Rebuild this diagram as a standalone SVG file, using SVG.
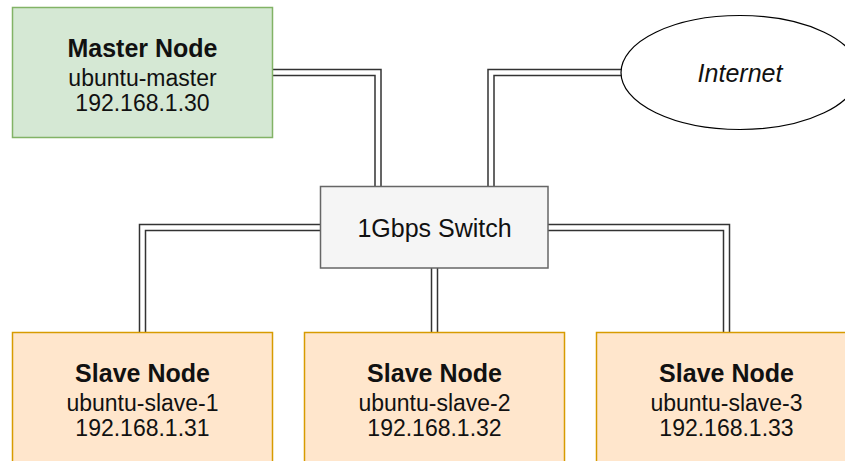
<svg xmlns="http://www.w3.org/2000/svg" width="845" height="461" viewBox="0 0 845 461">
  <style>
    .link-outer { fill: none; stroke: #333333; stroke-width: 7.5; stroke-linejoin: miter; stroke-linecap: butt; }
    .link-inner { fill: none; stroke: #ffffff; stroke-width: 4.5; stroke-linejoin: miter; stroke-linecap: butt; }
    .master { fill: #d5e8d4; stroke: #82b366; stroke-width: 1.5; }
    .slave { fill: #ffe6cc; stroke: #d79b00; stroke-width: 1.5; }
    .switch { fill: #f5f5f5; stroke: #666666; stroke-width: 1.5; }
    .cloud { fill: #ffffff; stroke: #000000; stroke-width: 1.2; }
    text { font-family: "Liberation Sans", Arial, sans-serif; fill: #111111; text-anchor: middle; }
    .title { font-weight: bold; font-size: 25px; }
    .sub { font-size: 23px; }
    .lbl { font-size: 25px; }
    .it { font-size: 25px; font-style: italic; }
  </style>
  <g id="connectors">
    <path class="link-outer" d="M272.5,72.5 H378 V186.5"/>
    <path class="link-inner" d="M272.5,72.5 H378 V186.5"/>
    <path class="link-outer" d="M491,186.5 V72.5 H621"/>
    <path class="link-inner" d="M491,186.5 V72.5 H621"/>
    <path class="link-outer" d="M320.5,227.5 H142.5 V332.5"/>
    <path class="link-inner" d="M320.5,227.5 H142.5 V332.5"/>
    <path class="link-outer" d="M434.5,268 V332.5"/>
    <path class="link-inner" d="M434.5,268 V332.5"/>
    <path class="link-outer" d="M548,227.5 H726.5 V332.5"/>
    <path class="link-inner" d="M548,227.5 H726.5 V332.5"/>
  </g>
  <g id="master">
    <rect class="master" x="12.5" y="7.5" width="260" height="130"/>
    <text class="title" x="142.5" y="57">Master Node</text>
    <text class="sub" x="142.5" y="86">ubuntu-master</text>
    <text class="sub" x="142.5" y="111">192.168.1.30</text>
  </g>
  <g id="internet">
    <ellipse class="cloud" cx="740" cy="72.5" rx="119" ry="57"/>
    <text class="it" x="740" y="82">Internet</text>
  </g>
  <g id="switch">
    <rect class="switch" x="320.5" y="186.5" width="227.5" height="81.5"/>
    <text class="lbl" x="434.5" y="237">1Gbps Switch</text>
  </g>
  <g id="slave1">
    <rect class="slave" x="12.5" y="332.5" width="260" height="130"/>
    <text class="title" x="142.5" y="382">Slave Node</text>
    <text class="sub" x="142.5" y="411">ubuntu-slave-1</text>
    <text class="sub" x="142.5" y="436">192.168.1.31</text>
  </g>
  <g id="slave2">
    <rect class="slave" x="304.5" y="332.5" width="260" height="130"/>
    <text class="title" x="434.5" y="382">Slave Node</text>
    <text class="sub" x="434.5" y="411">ubuntu-slave-2</text>
    <text class="sub" x="434.5" y="436">192.168.1.32</text>
  </g>
  <g id="slave3">
    <rect class="slave" x="596.5" y="332.5" width="260" height="130"/>
    <text class="title" x="726.5" y="382">Slave Node</text>
    <text class="sub" x="726.5" y="411">ubuntu-slave-3</text>
    <text class="sub" x="726.5" y="436">192.168.1.33</text>
  </g>
</svg>
